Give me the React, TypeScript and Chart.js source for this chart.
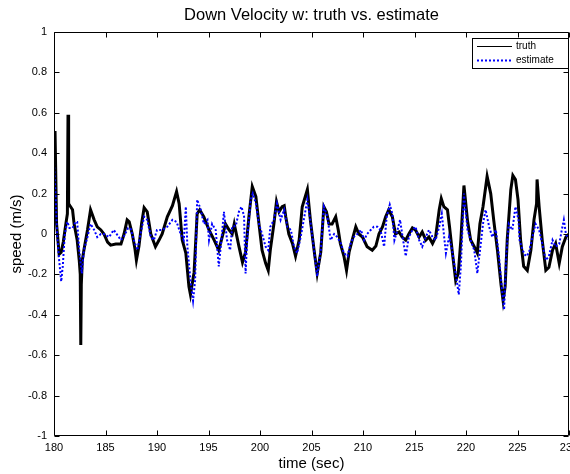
import { useEffect, useRef } from "react";
import { Chart, registerables } from "chart.js";

Chart.register(...registerables);

const titleText = "Down Velocity w: truth vs. estimate";
const xLabel = "time (sec)";
const yLabel = "speed (m/s)";
const xTicks = [180, 185, 190, 195, 200, 205, 210, 215, 220, 225, 230];
const yTicks = [-1, -0.8, -0.6, -0.4, -0.2, 0, 0.2, 0.4, 0.6, 0.8, 1];
const seriesNames = ["truth", "estimate"];

// [time (s), speed (m/s)]
const truth: [number, number][] = [
  [180.0, 0.10], [180.1, 0.51], [180.25, 0.05], [180.5, -0.10], [180.7, -0.09], [180.9, -0.04],
  [181.15, 0.05], [181.3, 0.10], [181.36, 0.59], [181.42, 0.15], [181.55, 0.14], [181.8, 0.12],
  [181.95, 0.05], [182.25, -0.03], [182.45, -0.13], [182.55, -0.20], [182.6, -0.55], [182.65, -0.25],
  [182.75, -0.13], [182.9, -0.08], [183.25, 0.02], [183.55, 0.12], [183.9, 0.07], [184.2, 0.035],
  [184.55, 0.02], [184.85, 0.0], [185.2, -0.04], [185.5, -0.055], [186.0, -0.05], [186.5, -0.05],
  [186.8, 0.0], [187.1, 0.07], [187.3, 0.06], [187.6, 0.0], [187.85, -0.07], [188.0, -0.13],
  [188.25, -0.06], [188.5, 0.05], [188.75, 0.13], [189.05, 0.11], [189.4, 0.0], [189.85, -0.063],
  [190.2, -0.03], [190.5, 0.0], [191.0, 0.085], [191.5, 0.14], [191.9, 0.21], [192.15, 0.15],
  [192.45, -0.03], [192.8, -0.095], [193.1, -0.26], [193.25, -0.30], [193.6, -0.19], [193.9, 0.10],
  [194.15, 0.12], [194.55, 0.085], [195.05, 0.02], [195.55, -0.03], [196.0, -0.08], [196.35, -0.01],
  [196.65, 0.05], [197.0, 0.02], [197.3, 0.0], [197.5, 0.05], [197.95, -0.06], [198.3, -0.14],
  [198.6, -0.09], [198.95, 0.10], [199.25, 0.235], [199.6, 0.185], [199.9, 0.05], [200.2, -0.08],
  [200.55, -0.145], [200.8, -0.18], [201.0, -0.08], [201.35, 0.05], [201.6, 0.16], [201.85, 0.11],
  [202.15, 0.135], [202.35, 0.14], [202.5, 0.085], [202.8, 0.0], [203.15, -0.047], [203.45, -0.11],
  [203.8, -0.03], [204.1, 0.135], [204.6, 0.22], [204.9, 0.065], [205.25, -0.08], [205.55, -0.195],
  [205.9, -0.09], [206.2, 0.135], [206.45, 0.11], [206.7, 0.05], [207.0, 0.05], [207.35, 0.085],
  [207.6, 0.02], [207.8, -0.047], [208.15, -0.11], [208.4, -0.18], [208.65, -0.09], [208.95, -0.03],
  [209.3, 0.036], [209.6, 0.0], [209.95, -0.015], [210.4, -0.063], [210.9, -0.08], [211.25, -0.06],
  [211.55, 0.0], [211.9, 0.036], [212.2, 0.085], [212.5, 0.12], [212.85, 0.085], [213.15, 0.0],
  [213.5, 0.01], [213.8, -0.015], [214.15, -0.03], [214.45, 0.0], [214.8, 0.03], [215.1, 0.02],
  [215.45, -0.015], [215.75, 0.01], [216.1, -0.03], [216.4, -0.015], [216.75, -0.047], [217.05, -0.015],
  [217.4, 0.12], [217.6, 0.175], [217.85, 0.135], [218.2, 0.12], [218.4, 0.036], [218.65, -0.08],
  [219.0, -0.23], [219.25, -0.195], [219.5, -0.03], [219.8, 0.24], [220.15, 0.065], [220.45, -0.03],
  [220.8, -0.063], [221.1, -0.095], [221.35, 0.05], [221.65, 0.135], [222.05, 0.285], [222.4, 0.2],
  [222.7, 0.065], [223.05, -0.08], [223.4, -0.25], [223.6, -0.33], [223.8, -0.26], [224.0, -0.03],
  [224.35, 0.22], [224.55, 0.29], [224.8, 0.27], [225.05, 0.17], [225.3, -0.03], [225.6, -0.16],
  [225.95, -0.18], [226.3, -0.08], [226.6, 0.07], [226.85, 0.15], [226.9, 0.27], [227.1, 0.135],
  [227.4, -0.03], [227.75, -0.18], [228.05, -0.165], [228.4, -0.08], [228.7, -0.047], [229.05, -0.145],
  [229.35, -0.063], [229.7, -0.015], [230.0, 0.0],
];

const estimate: [number, number][] = [
  [180.0, 0.35], [180.15, 0.2], [180.3, 0.0], [180.5, -0.13], [180.7, -0.235], [180.85, -0.16],
  [181.05, 0.0], [181.3, 0.06], [181.5, 0.03], [181.8, 0.03], [182.1, 0.06], [182.25, 0.06],
  [182.45, -0.08], [182.7, -0.195], [182.9, -0.08], [183.25, -0.015], [183.55, 0.05], [183.9, 0.02],
  [184.2, -0.015], [184.55, 0.0], [184.85, 0.0], [185.35, -0.015], [185.8, 0.02], [186.15, -0.005],
  [186.5, -0.03], [186.8, -0.01], [187.2, 0.03], [187.45, 0.025], [187.75, -0.03], [188.1, -0.08],
  [188.4, 0.0], [188.75, 0.085], [189.05, 0.07], [189.4, -0.015], [189.7, -0.03], [190.0, 0.02],
  [190.5, 0.02], [191.0, 0.036], [191.5, 0.07], [191.9, 0.06], [192.3, 0.0], [192.6, -0.03],
  [192.8, 0.135], [192.95, -0.063], [193.25, -0.23], [193.5, -0.33], [193.7, -0.23], [193.9, 0.17],
  [194.25, 0.12], [194.55, 0.05], [194.9, 0.07], [195.05, -0.03], [195.35, 0.05], [195.7, 0.02],
  [196.0, -0.16], [196.25, -0.03], [196.5, 0.11], [196.8, -0.03], [197.1, -0.08], [197.3, 0.036],
  [197.65, 0.04], [197.95, 0.11], [198.2, 0.135], [198.45, 0.09], [198.6, -0.195], [198.75, -0.03],
  [199.1, 0.17], [199.3, 0.2], [199.6, 0.15], [199.9, 0.05], [200.2, 0.0], [200.55, -0.063],
  [200.8, -0.08], [201.0, 0.036], [201.35, 0.07], [201.65, 0.15], [202.0, 0.07], [202.35, 0.12],
  [202.65, 0.036], [203.0, 0.02], [203.3, -0.063], [203.6, -0.095], [203.95, -0.015], [204.25, 0.07],
  [204.6, 0.17], [204.9, 0.06], [205.25, -0.08], [205.55, -0.21], [205.9, -0.08], [206.2, 0.135],
  [206.55, 0.085], [206.85, -0.03], [207.2, 0.0], [207.5, -0.015], [207.85, -0.047], [208.15, -0.095],
  [208.5, -0.11], [208.8, -0.047], [209.1, -0.015], [209.45, 0.0], [209.8, 0.02], [210.1, -0.03],
  [210.4, 0.0], [210.75, 0.02], [211.05, 0.036], [211.4, 0.036], [211.7, 0.02], [212.05, -0.063],
  [212.3, 0.085], [212.6, 0.145], [212.85, 0.1], [213.05, -0.03], [213.35, 0.02], [213.6, 0.07],
  [213.8, 0.0], [214.15, -0.11], [214.45, -0.015], [214.8, 0.02], [215.1, 0.036], [215.45, -0.03],
  [215.75, -0.063], [216.1, -0.015], [216.4, 0.02], [216.75, -0.015], [217.05, -0.03], [217.4, 0.036],
  [217.65, 0.1], [217.85, 0.0], [218.05, -0.095], [218.35, -0.015], [218.65, -0.08], [219.0, -0.195],
  [219.3, -0.3], [219.5, -0.16], [219.8, 0.2], [220.15, 0.02], [220.45, -0.03], [220.8, -0.08],
  [221.1, -0.195], [221.4, -0.063], [221.65, 0.05], [221.9, 0.12], [222.25, 0.036], [222.55, -0.015],
  [222.9, 0.02], [223.2, -0.11], [223.5, -0.28], [223.7, -0.375], [223.9, -0.11], [224.15, 0.05],
  [224.5, 0.02], [224.8, 0.135], [225.1, 0.07], [225.2, -0.03], [225.5, -0.08], [225.8, -0.11],
  [226.1, -0.095], [226.45, -0.015], [226.75, 0.05], [227.1, 0.02], [227.4, -0.047], [227.75, -0.13],
  [228.05, -0.11], [228.4, -0.03], [228.7, -0.063], [229.05, -0.05], [229.3, 0.02], [229.5, 0.07],
  [229.7, 0.0], [230.0, -0.03],
];

const FONT = "'Liberation Sans', Arial, Helvetica, sans-serif";
const TRUTH_COLOR = "#000000";
const EST_COLOR = "#0000ff";

const decorPlugin = {
  id: "decor",
  afterDraw(chart: any) {
    const { ctx, chartArea: a, scales } = chart;
    const xs = scales.x;
    const ys = scales.y;
    const L = Math.round(a.left) + 0.5;
    const R = Math.round(a.right) - 0.5;
    const T = Math.round(a.top) + 0.5;
    const B = Math.round(a.bottom) - 0.5;
    ctx.save();
    ctx.strokeStyle = "#000";
    ctx.lineWidth = 1;
    ctx.setLineDash([]);
    ctx.beginPath();
    ctx.rect(L, T, R - L, B - T);
    ctx.stroke();
    const tl = 5;
    ctx.beginPath();
    for (const v of xTicks) {
      const p = Math.round(xs.getPixelForValue(v)) + 0.5;
      ctx.moveTo(p, B);
      ctx.lineTo(p, B - tl);
      ctx.moveTo(p, T);
      ctx.lineTo(p, T + tl);
    }
    for (const v of yTicks) {
      const p = Math.round(ys.getPixelForValue(v)) + 0.5;
      ctx.moveTo(L, p);
      ctx.lineTo(L + tl, p);
      ctx.moveTo(R, p);
      ctx.lineTo(R - tl, p);
    }
    ctx.stroke();

    // title & axis labels
    ctx.fillStyle = "#000";
    ctx.textAlign = "center";
    ctx.textBaseline = "middle";
    ctx.font = `16.5px ${FONT}`;
    ctx.fillText(titleText, (a.left + a.right) / 2, 15);
    ctx.font = `15px ${FONT}`;
    ctx.fillText(xLabel, (a.left + a.right) / 2, 464);
    ctx.save();
    ctx.translate(17, (a.top + a.bottom) / 2);
    ctx.rotate(-Math.PI / 2);
    ctx.fillText(yLabel, 0, 0);
    ctx.restore();

    // legend
    const bx = 472.5, by = 38.5, bw = 96, bh = 30;
    ctx.fillStyle = "#fff";
    ctx.fillRect(bx, by, bw, bh);
    ctx.strokeStyle = "#000";
    ctx.lineWidth = 1;
    ctx.strokeRect(bx, by, bw, bh);
    const rows = [by + 8, by + 22];
    ctx.beginPath();
    ctx.moveTo(477, rows[0]);
    ctx.lineTo(512, rows[0]);
    ctx.strokeStyle = TRUTH_COLOR;
    ctx.lineWidth = 1;
    ctx.stroke();
    ctx.beginPath();
    ctx.setLineDash([2, 2]);
    ctx.moveTo(477, rows[1]);
    ctx.lineTo(512, rows[1]);
    ctx.strokeStyle = EST_COLOR;
    ctx.lineWidth = 2;
    ctx.stroke();
    ctx.setLineDash([]);
    ctx.fillStyle = "#000";
    ctx.textAlign = "left";
    ctx.font = `10px ${FONT}`;
    ctx.fillText(seriesNames[0], 516, rows[0]);
    ctx.fillText(seriesNames[1], 516, rows[1]);
    ctx.restore();
  },
};

export default function App() {
  const ref = useRef<HTMLCanvasElement>(null);
  useEffect(() => {
    const prevMargin = document.body.style.margin;
    document.body.style.margin = "0";
    const chart = new Chart(ref.current!, {
      type: "line",
      data: {
        datasets: [
          {
            label: seriesNames[1],
            data: estimate.map(([x, y]) => ({ x, y })),
            borderColor: EST_COLOR,
            borderWidth: 2,
            borderDash: [2, 2],
            pointRadius: 0,
            tension: 0,
            fill: false,
          },
          {
            label: seriesNames[0],
            data: truth.map(([x, y]) => ({ x, y })),
            borderColor: TRUTH_COLOR,
            borderWidth: 3,
            pointRadius: 0,
            tension: 0,
            fill: false,
          },
        ],
      },
      options: {
        animation: false,
        responsive: false,
        devicePixelRatio: 1,
        layout: { padding: { top: 32, right: 1, left: 0, bottom: 0 } },
        plugins: { legend: { display: false }, title: { display: false }, tooltip: { enabled: false } },
        events: [],
        scales: {
          x: {
            type: "linear",
            min: 180,
            max: 230,
            grid: { display: false, drawTicks: false },
            border: { display: false },
            afterBuildTicks: (s: any) => {
              s.ticks = xTicks.map((v) => ({ value: v }));
            },
            afterFit: (s: any) => {
              s.height = 38;
              s.paddingLeft = 0;
              s.paddingRight = 0;
            },
            ticks: {
              autoSkip: false,
              maxRotation: 0,
              padding: 5,
              color: "#000",
              font: { family: FONT, size: 11 },
              callback: (v: any) => String(v),
            },
          },
          y: {
            type: "linear",
            min: -1,
            max: 1,
            grid: { display: false, drawTicks: false },
            border: { display: false },
            afterBuildTicks: (s: any) => {
              s.ticks = yTicks.map((v) => ({ value: v }));
            },
            afterFit: (s: any) => {
              s.width = 54;
              s.paddingTop = 0;
              s.paddingBottom = 0;
            },
            ticks: {
              autoSkip: false,
              padding: 7,
              color: "#000",
              font: { family: FONT, size: 11 },
              callback: (v: any) => String(Math.round(Number(v) * 10) / 10),
            },
          },
        },
      },
      plugins: [decorPlugin],
    });
    return () => {
      chart.destroy();
      document.body.style.margin = prevMargin;
    };
  }, []);
  return (
    <div style={{ position: "absolute", left: 0, top: 0, width: 570, height: 474, background: "#fff" }}>
      <canvas ref={ref} width={570} height={474} style={{ width: 570, height: 474, display: "block" }} />
    </div>
  );
}
